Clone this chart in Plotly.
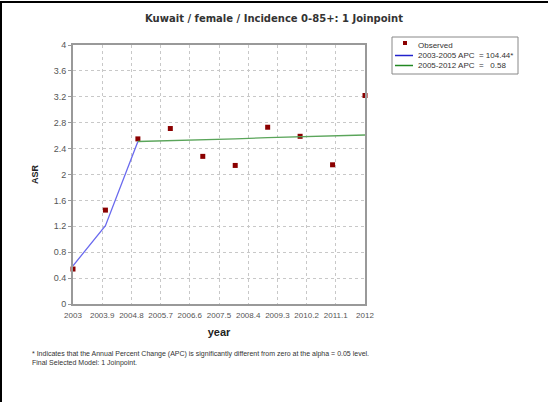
import plotly.graph_objects as go

years = [2003, 2004, 2005, 2006, 2007, 2008, 2009, 2010, 2011, 2012]
observed = [0.54, 1.45, 2.55, 2.71, 2.28, 2.14, 2.73, 2.59, 2.15, 3.22]

seg1_years = [2003, 2004, 2005]
seg1_fit = [0.59, 1.21, 2.51]
seg2_years = [2005, 2006, 2007, 2008, 2009, 2010, 2011, 2012]
seg2_fit = [2.51, 2.52, 2.54, 2.55, 2.57, 2.58, 2.60, 2.61]

xtick_vals = [2003, 2003.9, 2004.8, 2005.7, 2006.6, 2007.5, 2008.4, 2009.3, 2010.2, 2011.1, 2012]
xtick_text = ["2003", "2003.9", "2004.8", "2005.7", "2006.6", "2007.5", "2008.4", "2009.3", "2010.2", "2011.1", "2012"]
ytick_vals = [0, 0.4, 0.8, 1.2, 1.6, 2, 2.4, 2.8, 3.2, 3.6, 4]
ytick_text = ["0", "0.4", "0.8", "1.2", "1.6", "2", "2.4", "2.8", "3.2", "3.6", "4"]

legend_labels = ["Observed", "2003-2005 APC  = 104.44*", "2005-2012 APC  =   0.58"]

W, H = 548, 402
L, R, T, B = 73, 365, 45, 304

MARKER_COLOR = "#8b0000"
BLUE = "#6a6aee"
GREEN = "#5aa55a"

def px(x):
    return (x - L) / (R - L)

def py(y):
    return (B - y) / (B - T)

fig = go.Figure()
fig.add_trace(go.Scatter(x=years, y=observed, mode="markers", name=legend_labels[0],
                         marker=dict(symbol="square", size=5, color=MARKER_COLOR),
                         cliponaxis=False, showlegend=False))
fig.add_trace(go.Scatter(x=seg1_years, y=seg1_fit, mode="lines", name=legend_labels[1],
                         line=dict(color=BLUE, width=1.3), showlegend=False))
fig.add_trace(go.Scatter(x=seg2_years, y=seg2_fit, mode="lines", name=legend_labels[2],
                         line=dict(color=GREEN, width=1.3), showlegend=False))

fig.update_layout(
    width=W, height=H,
    margin=dict(l=L, r=W - R, t=T, b=H - B, pad=0),
    paper_bgcolor="white", plot_bgcolor="white",
    font=dict(family="Arial, Liberation Sans, sans-serif", size=9, color="#555555"),
    title=dict(text="<b>Kuwait / female / Incidence 0-85+: 1 Joinpoint</b>",
               xref="container", x=274 / W, xanchor="center", y=1 - 18 / H, yanchor="middle",
               font=dict(family="DejaVu Sans, Verdana, sans-serif", size=10, color="#333333")),
    showlegend=False,
    xaxis=dict(range=[2003, 2012], tickmode="array", tickvals=xtick_vals, ticktext=xtick_text,
               showgrid=True, gridcolor="#c8c8c8", griddash="dot", gridwidth=1,
               showline=True, linecolor="#999999", linewidth=2, mirror=True,
               ticks="outside", ticklen=2, tickcolor="rgba(0,0,0,0)",
               tickfont=dict(size=8, color="#555555"), zeroline=False,
               title=dict(text="<b>year</b>", font=dict(size=11, color="#222222"), standoff=10)),
    yaxis=dict(range=[0, 4], tickmode="array", tickvals=ytick_vals, ticktext=ytick_text,
               showgrid=True, gridcolor="#c8c8c8", griddash="dot", gridwidth=1,
               showline=True, linecolor="#999999", linewidth=2, mirror=True,
               ticks="outside", ticklen=3, tickcolor="#999999",
               tickfont=dict(size=9, color="#555555"), zeroline=False,
               title=dict(text="<b>ASR</b>", font=dict(size=9, color="#222222"), standoff=14)),
)

# manual legend (compact, like the reference)
fig.add_shape(type="rect", xref="paper", yref="paper", x0=px(392), x1=px(518), y0=py(37), y1=py(74),
              line=dict(color="#888888", width=1), fillcolor="white")
leg_y = [45, 55.5, 65.5]
fig.add_shape(type="rect", xref="paper", yref="paper", x0=px(403), x1=px(407), y0=py(41), y1=py(45),
              line=dict(width=0), fillcolor=MARKER_COLOR)
fig.add_shape(type="line", xref="paper", yref="paper", x0=px(395), x1=px(413), y0=py(leg_y[1]), y1=py(leg_y[1]),
              line=dict(color="#2222cc", width=1.5))
fig.add_shape(type="line", xref="paper", yref="paper", x0=px(395), x1=px(413), y0=py(leg_y[2]), y1=py(leg_y[2]),
              line=dict(color="#228822", width=1.5))
for lab, yy in zip(legend_labels, leg_y):
    fig.add_annotation(xref="paper", yref="paper", x=px(416), y=py(yy), xanchor="left", yanchor="middle",
                       text=lab, showarrow=False, font=dict(size=8, color="#333333"))

fig.add_annotation(xref="paper", yref="paper", x=px(30), y=py(354), xanchor="left", yanchor="middle",
                   text="* Indicates that the Annual Percent Change (APC) is significantly different from zero at the alpha = 0.05 level.",
                   showarrow=False, font=dict(size=7, color="#333333"))
fig.add_annotation(xref="paper", yref="paper", x=px(30), y=py(363), xanchor="left", yanchor="middle",
                   text="Final Selected Model: 1 Joinpoint.",
                   showarrow=False, font=dict(size=7, color="#333333"))

# outer frame lines
fig.add_shape(type="line", xref="paper", yref="paper", x0=px(0), x1=px(548), y0=py(2), y1=py(2),
              line=dict(color="black", width=2))
fig.add_shape(type="line", xref="paper", yref="paper", x0=px(1), x1=px(1), y0=py(2), y1=py(402),
              line=dict(color="black", width=2))

fig.write_html("out.html", config={"displayModeBar": False},
               post_script="document.body.style.margin='0';document.body.style.overflow='hidden';")
